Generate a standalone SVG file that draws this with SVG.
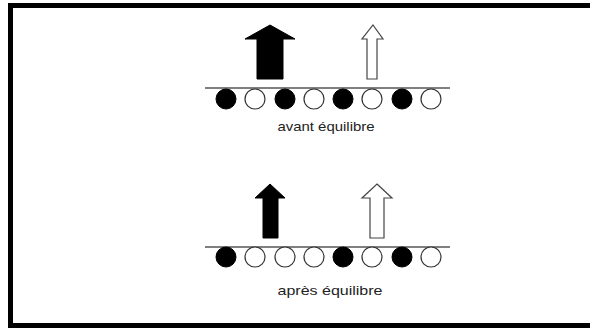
<svg xmlns="http://www.w3.org/2000/svg" width="590" height="331" viewBox="0 0 590 331">
<style>
.line{stroke:#555;stroke-width:1.3;fill:none}
.b{fill:#000;stroke:#000;stroke-width:1}
.w{fill:#fff;stroke:#333;stroke-width:1.2}
.aw{fill:#fff;stroke:#444;stroke-width:1.2}
.lbl{font-family:"Liberation Sans",Arial,sans-serif;font-size:13px;fill:#222}
</style>
<rect x="0" y="0" width="590" height="331" fill="#fff"/>
<path d="M10.5 328 V5.5 H590" fill="none" stroke="#000" stroke-width="5"/>
<path d="M8 325.5 H590" fill="none" stroke="#000" stroke-width="5"/>
<g id="avant">
<line class="line" x1="205" y1="88" x2="450" y2="88"/>
<circle class="b" cx="226" cy="99" r="10"/>
<circle class="w" cx="255" cy="99" r="10"/>
<circle class="b" cx="285" cy="99" r="10"/>
<circle class="w" cx="314" cy="99" r="10"/>
<circle class="b" cx="343" cy="99" r="10"/>
<circle class="w" cx="372" cy="99" r="10"/>
<circle class="b" cx="402" cy="99" r="10"/>
<circle class="w" cx="431" cy="99" r="10"/>
<polygon class="b" points="270,25 295,39 283,39 283,79 257,79 257,39 245,39"/>
<polygon class="aw" points="373,25 383,39 377,39 377,79 367,79 367,39 362,39"/>
<text class="lbl" x="326" y="131" text-anchor="middle" textLength="97" lengthAdjust="spacingAndGlyphs">avant équilibre</text>
</g>
<g id="apres">
<line class="line" x1="205" y1="247" x2="450" y2="247"/>
<circle class="b" cx="226" cy="257" r="10"/>
<circle class="w" cx="255" cy="257" r="10"/>
<circle class="w" cx="285" cy="257" r="10"/>
<circle class="w" cx="314" cy="257" r="10"/>
<circle class="b" cx="343" cy="257" r="10"/>
<circle class="w" cx="372" cy="257" r="10"/>
<circle class="b" cx="402" cy="257" r="10"/>
<circle class="w" cx="431" cy="257" r="10"/>
<polygon class="b" points="270,184 285,198 278,198 278,238 263,238 263,198 255,198"/>
<polygon class="aw" points="377,184 392,198 384,198 384,238 370,238 370,198 362,198"/>
<text class="lbl" x="330" y="295" text-anchor="middle" textLength="105" lengthAdjust="spacingAndGlyphs">après équilibre</text>
</g>
</svg>
